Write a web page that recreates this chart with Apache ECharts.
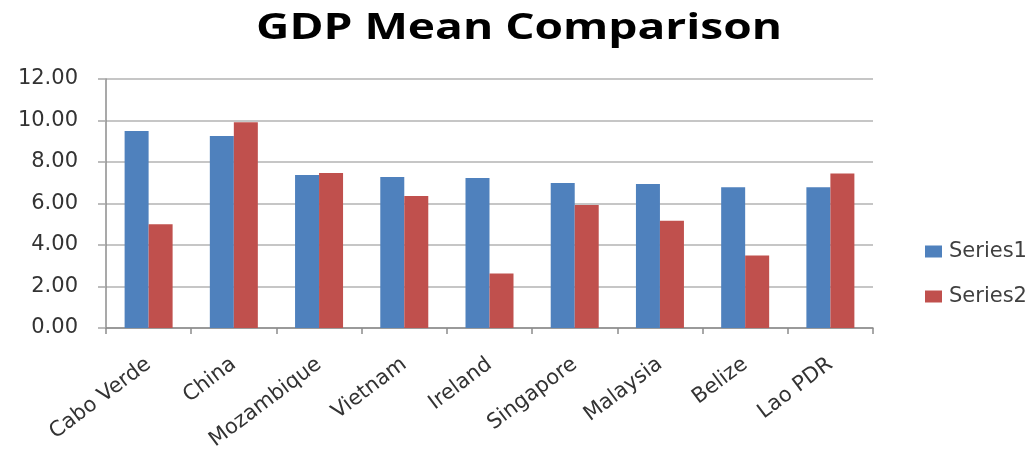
<!DOCTYPE html>
<html>
<head>
<meta charset="utf-8">
<script src="https://cdn.jsdelivr.net/npm/echarts@6/dist/echarts.min.js"></script>
<style>
  html, body { margin: 0; padding: 0; background: #fff; }
  #chart { width: 1036px; height: 455px; }
</style>
</head>
<body>
<div id="chart"></div>
<script>
// Countries compared
const categories = ['Cabo Verde', 'China', 'Mozambique', 'Vietnam', 'Ireland', 'Singapore', 'Malaysia', 'Belize', 'Lao PDR'];
// Mean GDP values for each series
const series1 = [9.49, 9.25, 7.37, 7.28, 7.23, 6.99, 6.94, 6.78, 6.78];
const series2 = [5.00, 9.91, 7.47, 6.36, 2.63, 5.93, 5.17, 3.49, 7.45];
const seriesNames = ['Series1', 'Series2'];
// Value axis ticks
const yTicks = [0, 2, 4, 6, 8, 10, 12];
const chartTitle = 'GDP Mean Comparison';

const chart = echarts.init(document.getElementById('chart'), null, { renderer: 'canvas' });
const labelFont = 'DejaVu Sans';

chart.setOption({
  animation: false,
  color: ['#4F81BD', '#C0504D'],
  // Wide, bold heading drawn as a graphic so it can be stretched horizontally
  graphic: [{
    type: 'text',
    x: 519,
    y: 29,
    scaleX: 1.28,
    style: {
      text: chartTitle,
      font: 'bold 36px "Open Sans"',
      fill: '#000',
      textAlign: 'center',
      textVerticalAlign: 'middle'
    }
  }],
  legend: {
    orient: 'vertical',
    left: 920,
    top: 236,
    itemWidth: 17,
    itemHeight: 12,
    itemGap: 24,
    icon: 'rect',
    textStyle: { fontFamily: labelFont, fontSize: 21, color: '#404040', padding: [0, 0, 0, 2] },
    data: seriesNames
  },
  grid: { left: 106, right: 163, top: 79, bottom: 127, containLabel: false },
  xAxis: {
    type: 'category',
    data: categories,
    axisLine: { lineStyle: { color: '#8c8c8c', width: 1.5 } },
    axisTick: { show: true, length: 6, lineStyle: { color: '#8c8c8c', width: 1.5 } },
    axisLabel: {
      rotate: 37,
      margin: 34,
      fontFamily: labelFont,
      fontSize: 21,
      color: '#333'
    }
  },
  yAxis: {
    type: 'value',
    min: yTicks[0],
    max: yTicks[yTicks.length - 1],
    interval: yTicks[1] - yTicks[0],
    axisLine: { show: true, lineStyle: { color: '#8c8c8c', width: 1.5 } },
    axisTick: { show: true, length: 8, lineStyle: { color: '#a6a6a6', width: 1.5 } },
    splitLine: { lineStyle: { color: '#b3b3b3', width: 1.5 } },
    axisLabel: {
      fontFamily: labelFont,
      fontSize: 21,
      color: '#333',
      margin: 28,
      formatter: v => v.toFixed(2)
    }
  },
  series: [
    { name: seriesNames[0], type: 'bar', data: series1, barWidth: 24, barGap: '0%' },
    { name: seriesNames[1], type: 'bar', data: series2, barWidth: 24, barGap: '0%' }
  ]
});
</script>
</body>
</html>
